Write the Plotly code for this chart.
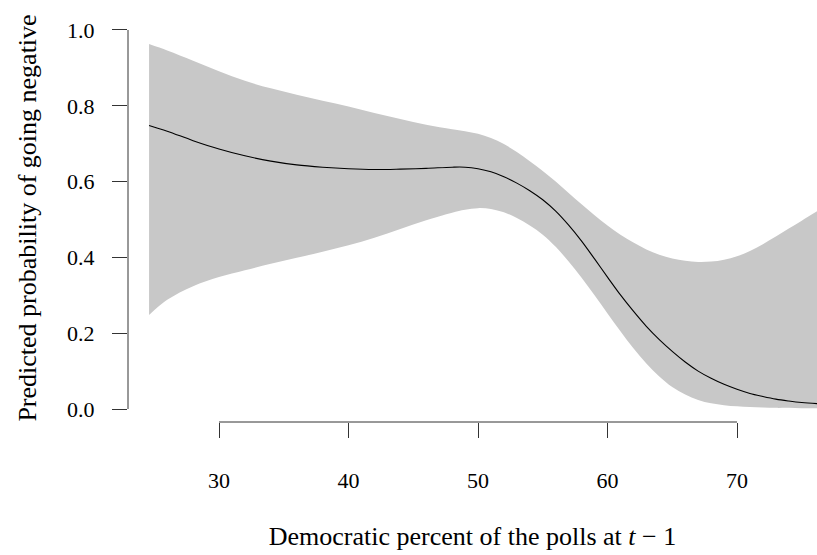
import plotly.graph_objects as go

# Data
x_vals = [24.6, 26, 28, 30, 32, 34, 36, 38, 40, 42, 44, 46, 48, 49, 50, 51, 52, 53, 54, 55,
          56, 57, 58, 59, 60, 61, 62, 63, 64, 65, 66, 67, 68, 69, 70, 71, 72, 73, 74, 75, 76.2]
fit_vals = [0.748, 0.733, 0.708, 0.686, 0.668, 0.654, 0.644, 0.638, 0.634, 0.632, 0.633, 0.635, 0.638, 0.638,
            0.634, 0.626, 0.613, 0.596, 0.576, 0.552, 0.522, 0.485, 0.443, 0.396, 0.348, 0.301, 0.258,
            0.218, 0.183, 0.152, 0.124, 0.100, 0.081, 0.065, 0.052, 0.041, 0.033, 0.026, 0.021, 0.017, 0.014]
upper_vals = [0.963, 0.946, 0.919, 0.891, 0.866, 0.846, 0.829, 0.813, 0.798, 0.781, 0.765, 0.750, 0.738, 0.733,
              0.726, 0.715, 0.699, 0.678, 0.654, 0.628, 0.600, 0.570, 0.540, 0.511, 0.484, 0.460, 0.439,
              0.421, 0.407, 0.397, 0.391, 0.388, 0.389, 0.394, 0.403, 0.417, 0.435, 0.455, 0.476, 0.497, 0.522]
lower_vals = [0.248, 0.288, 0.324, 0.348, 0.366, 0.383, 0.399, 0.415, 0.432, 0.452, 0.475, 0.498, 0.518, 0.526,
              0.530, 0.528, 0.519, 0.504, 0.484, 0.460, 0.428, 0.389, 0.346, 0.300, 0.252, 0.205, 0.160,
              0.120, 0.086, 0.058, 0.038, 0.024, 0.015, 0.010, 0.007, 0.005, 0.004, 0.003, 0.003, 0.002, 0.002]

x_ticks = [30, 40, 50, 60, 70]
y_ticks = [0.0, 0.2, 0.4, 0.6, 0.8, 1.0]
y_tick_labels = ["0.0", "0.2", "0.4", "0.6", "0.8", "1.0"]

FONT = "Liberation Serif"
AXC = "#333333"

fig = go.Figure()
fig.add_trace(go.Scatter(x=x_vals, y=upper_vals, mode="lines", line=dict(width=0, shape="spline"),
                         hoverinfo="skip", showlegend=False))
fig.add_trace(go.Scatter(x=x_vals, y=lower_vals, mode="lines", line=dict(width=0, shape="spline"),
                         fill="tonexty", fillcolor="#C8C8C8", hoverinfo="skip", showlegend=False))
fig.add_trace(go.Scatter(x=x_vals, y=fit_vals, mode="lines", line=dict(color="black", width=1.1, shape="spline"),
                         showlegend=False))

# R-style axis lines spanning only the tick range
fig.add_shape(type="line", xref="x", yref="paper", x0=x_ticks[0], x1=x_ticks[-1], y0=0, y1=0,
              line=dict(color=AXC, width=1))
fig.add_shape(type="line", xref="paper", yref="y", x0=0, x1=0, y0=y_ticks[0], y1=y_ticks[-1],
              line=dict(color=AXC, width=1))

fig.update_layout(
    width=817, height=555,
    margin=dict(l=128, r=0, t=14, b=133, autoexpand=False),
    plot_bgcolor="white", paper_bgcolor="white",
    font=dict(family=FONT, color="black"),
    xaxis=dict(range=[22.973, 76.178], tickvals=x_ticks, ticks="outside", ticklen=15, tickcolor=AXC,
               tickwidth=1, showline=False, showgrid=False, zeroline=False,
               tickfont=dict(size=22, family=FONT), ticklabelstandoff=24,
               title=dict(text="Democratic percent of the polls at <i>t</i> − 1",
                          font=dict(size=26, family=FONT), standoff=34)),
    yaxis=dict(range=[-0.0343, 1.0422], tickvals=y_ticks, ticktext=y_tick_labels, ticks="outside",
               ticklen=15, tickcolor=AXC, tickwidth=1, showline=False, showgrid=False, zeroline=False,
               tickfont=dict(size=22, family=FONT), ticklabelstandoff=13,
               title=dict(text="Predicted probability of going negative",
                          font=dict(size=26, family=FONT), standoff=22)),
)

fig.write_html("out.html")
